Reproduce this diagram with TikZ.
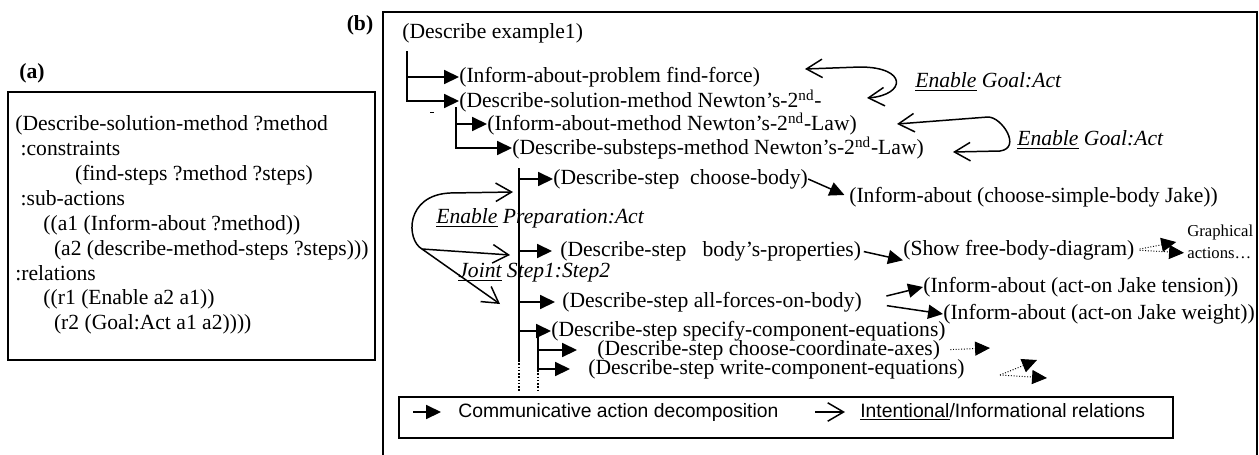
\documentclass[tikz,border=0pt]{standalone}
\usepackage{fontspec}
\setmainfont{Liberation Serif}
\newfontfamily\legendfont{Liberation Sans}
\usetikzlibrary{arrows.meta}

\begin{document}
\begin{tikzpicture}[x=0.02cm, y=-0.02cm,
    txt/.style={inner sep=0pt, anchor=west, font=\fontsize{12.3}{14.2}\selectfont},
    reltxt/.style={txt, font=\fontsize{12.3}{14.2}\selectfont\itshape},
    small/.style={inner sep=0pt, anchor=west, font=\fontsize{9.5}{11}\selectfont},
    leg/.style={inner sep=0pt, anchor=west, font=\fontsize{11}{13}\selectfont\legendfont},
    panel/.style={inner sep=0pt, font=\fontsize{12.3}{14.2}\selectfont\bfseries},
    box/.style={line width=0.9pt},
    trunk/.style={line width=0.85pt},
    dec/.style={-{Triangle[length=8.5pt,width=8pt]}, line width=0.85pt},
    gdec/.style={-{Triangle[length=8.5pt,width=8pt]}, line width=0.55pt, densely dotted},
    rel/.style={{Straight Barb[length=9pt,width=10.5pt]}-{Straight Barb[length=9pt,width=10.5pt]}, line width=0.85pt},
    relto/.style={-{Straight Barb[length=9pt,width=10.5pt]}, line width=0.85pt}]
    \useasboundingbox (0,0) rectangle (1259,454);

    % panel (a): the schema
    \node[panel] (labA) at (32,73) {(a)};
    \draw[box] (8,92) rectangle (375,360);
    \node[txt, anchor=north west, align=left] (schema) at (15,115) {(Describe-solution-method ?method\\
        \hspace*{3pt}:constraints\\
        \hspace*{34pt}(find-steps ?method ?steps)\\
        \hspace*{3pt}:sub-actions\\
        \hspace*{16pt}((a1 (Inform-about ?method))\\
        \hspace*{22pt}(a2 (describe-method-steps ?steps)))\\
        :relations\\
        \hspace*{16pt}((r1 (Enable a2 a1))\\
        \hspace*{22pt}(r2 (Goal:Act a1 a2))))};

    % panel (b): the plan
    \node[panel] (labB) at (360,25) {(b)};
    \draw[box] (383,12) rectangle (1257,470);

    \node[txt] (ex1) at (402,33) {(Describe example1)};
    \node[txt] (ipf) at (459,77) {(Inform-about-problem find-force)};
    \node[txt] (dsm) at (459,101) {(Describe-solution-method Newton's-2\textsuperscript{nd}-};
    \node[txt] (iam) at (487,124) {(Inform-about-method Newton's-2\textsuperscript{nd}-Law)};
    \node[txt] (dss) at (512,148) {(Describe-substeps-method Newton's-2\textsuperscript{nd}-Law)};

    \coordinate (s1) at (407,51);
    \draw[dec] (s1) |- (ipf.west);
    \draw[dec] (s1) |- (dsm.west);
    \draw[line width=0.5pt] (430,112) -- (434,112);
    \coordinate (s2) at (456,107);
    \draw[dec] (s2) |- (iam.west);
    \draw[dec] (s2) |- (dss.west);

    % steps
    \node[txt] (csb) at (553,179) {(Describe-step\ \ choose-body)};
    \node[txt] (bpp) at (560,251) {(Describe-step\ \ \ body's-properties)};
    \node[txt] (afb) at (562,302) {(Describe-step all-forces-on-body)};
    \node[txt] (sce) at (551,331) {(Describe-step specify-component-equations)};
    \node[txt] (cca) at (597,350) {(Describe-step choose-coordinate-axes)};
    \node[txt] (wce) at (588,369) {(Describe-step write-component-equations)};

    \coordinate (s3) at (519,168);
    \coordinate (s3end) at (519,360);
    \coordinate (s3dot) at (519,392);
    \draw[trunk] (s3) -- (s3end);
    \draw[trunk, densely dotted] (s3end) -- (s3dot);
    \draw[dec] (s3 |- csb.west) -- (csb.west);
    \draw[dec, shorten >=0.16cm] (s3 |- bpp.west) -- (bpp.west);
    \draw[dec, shorten >=0.14cm] (s3 |- afb.west) -- (afb.west);
    \draw[dec] (s3 |- sce.west) -- (sce.west);

    \coordinate (s4) at (538,331);
    \coordinate (s4end) at (538,370);
    \coordinate (s4dot) at (538,392);
    \draw[trunk] (s4) -- (s4end);
    \draw[trunk, densely dotted] (s4end) -- (s4dot);
    \draw[dec, shorten >=0.4cm] (s4) |- (cca.west);
    \draw[dec, shorten >=0.36cm] (s4) |- (wce.west);

    % sub-actions on the right
    \node[txt] (ichb) at (849,197) {(Inform-about (choose-simple-body Jake))};
    \node[txt] (sfd) at (903,250) {(Show free-body-diagram)};
    \node[small] (gr1) at (1187,232) {Graphical};
    \node[small] (gr2) at (1187,253) {actions…};
    \node[txt] (iaj) at (923,287) {(Inform-about (act-on Jake tension))};
    \node[txt] (iaw) at (943,314) {(Inform-about (act-on Jake weight))};

    \draw[dec, shorten >=0.1cm] (csb.east) -- (ichb.west);
    \draw[dec, shorten <=0.05cm] (bpp.east) -- (sfd.south west);
    \draw[gdec, shorten <=0.1cm, shorten >=0.22cm] (sfd.east) -- (gr1.south west);
    \draw[gdec, shorten <=0.1cm, shorten >=0.06cm] (sfd.east) -- (gr2.west);
    \draw[dec, shorten <=0.5cm] (afb.east) -- (iaj.west);
    \draw[dec, shorten <=0.5cm] (afb.east) -- (iaw.west);

    \coordinate (cx) at (990,348);
    \draw[gdec, shorten <=0.2cm] (cca.east) -- (cx);
    \coordinate (wx0) at (1000,375);
    \coordinate (wx1) at (1037,360);
    \coordinate (wx2) at (1047,378);
    \draw[gdec] (wx0) -- (wx1);
    \draw[gdec] (wx0) -- (wx2);

    % relations
    \node[reltxt] (ga1) at (915,82) {\underline{Enable} Goal:Act};
    \node[reltxt] (ga2) at (1017,140) {\underline{Enable} Goal:Act};
    \node[reltxt] (epa) at (436,218) {\underline{Enable} Preparation:Act};
    \node[reltxt] (jss) at (458,273) {\underline{Joint} Step1:Step2};

    \coordinate (g1a) at (805,69);
    \coordinate (g1b) at (867,98);
    \draw[rel] (g1a) -- (860,67) .. controls (908,67) and (906,95) .. (g1b);
    \coordinate (g2a) at (897,124);
    \coordinate (g2b) at (953,152);
    \draw[rel] (g2a) -- (988,117) .. controls (1002,117) and (1022,148) .. (1000,151) -- (g2b);

    \coordinate (e1) at (513,192);
    \coordinate (ej) at (422,249);
    \coordinate (e2) at (510,255);
    \coordinate (e3) at (500,304);
    \draw[rel] (e1) -- (450,193) .. controls (405,195) and (406,240) .. (ej) -- (e2);
    \draw[relto] (ej) -- (e3);

    % legend
    \draw[box] (399,397) rectangle (1173,438);
    \node[leg] (lg1) at (458,412) {Communicative action decomposition};
    \node[leg] (lg2) at (860,412) {\underline{Intentional}/Informational relations};
    \coordinate (la) at (413,412);
    \coordinate (lb) at (815,412);
    \draw[dec, shorten >=0.34cm] (la) -- (lg1.west);
    \draw[relto, shorten >=0.3cm] (lb) -- (lg2.west);
\end{tikzpicture}
\end{document}
